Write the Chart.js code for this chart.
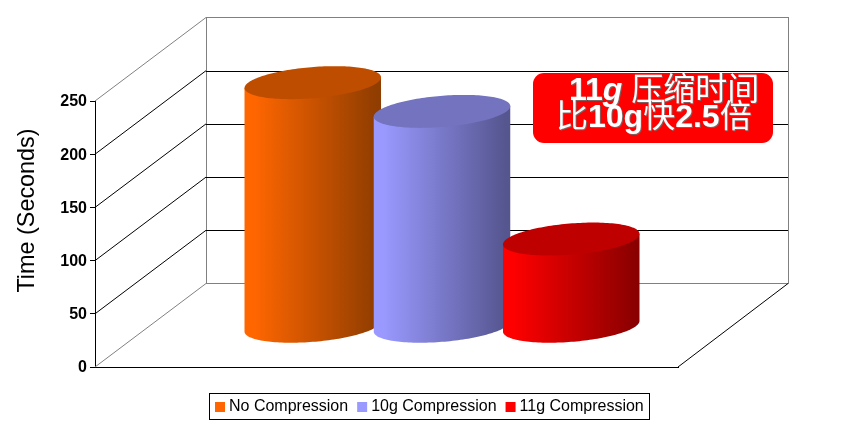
<!DOCTYPE html>
<html>
<head>
<meta charset="utf-8">
<style>html,body{margin:0;padding:0;background:#fff}canvas{display:block}</style>
<script src="https://cdn.jsdelivr.net/npm/chart.js@4"></script>
</head>
<body>
<canvas id="c" width="841" height="430" style="width:841px;height:430px"></canvas>
<script>
const categories = [''];
const seriesNames = ['No Compression', '10g Compression', '11g Compression'];
const noCompression = [228];
const tenGCompression = [201];
const elevenGCompression = [81];
const yTicks = [0, 50, 100, 150, 200, 250];
const yTitle = 'Time (Seconds)';
const baseColors = ['#FF6600', '#9999FF', '#FF0000'];
const topColors = ['#BF4D00', '#7373BF', '#BF0000'];
const endColors = ['#8F3D00', '#55558F', '#8A0000'];
const noteLine1 = [['11', 'b'], ['g', 'bi'], [' ', 'b'], ['压缩时间', 'c']];
const noteLine2 = [['比', 'c'], ['10g', 'b'], ['快', 'c'], ['2.5', 'b'], ['倍', 'c']];

const DEPTH = {dx: 111, dy: -83.5};
const LATIN = '"Liberation Sans"';
const CJK = '"Noto Sans CJK SC"';

function line(ctx, x1, y1, x2, y2, color) {
  ctx.strokeStyle = color; ctx.lineWidth = 1;
  ctx.beginPath(); ctx.moveTo(x1, y1); ctx.lineTo(x2, y2); ctx.stroke();
}

function segFont(kind) {
  if (kind === 'b') return 'bold 32px ' + LATIN;
  if (kind === 'bi') return 'italic bold 32px ' + LATIN;
  return '32px ' + CJK;
}
function drawSegs(ctx, segs, x, y) {
  ctx.textAlign = 'left'; ctx.textBaseline = 'alphabetic';
  for (const [t, k] of segs) {
    ctx.font = segFont(k);
    ctx.fillText(t, x, y);
    x += ctx.measureText(t).width;
  }
}

function drawCylinder(ctx, el, i) {
  const a = el.width / 2;
  const vx = 22, vy = -16.5;
  const R = Math.hypot(a, vx);
  const t0 = Math.atan2(vx, a);
  const cx = el.x + DEPTH.dx / 2;
  const cyTop = el.y + DEPTH.dy / 2;
  const cyBase = el.base + DEPTH.dy / 2 + 1.5;
  const px = t => cx + a * Math.cos(t) + vx * Math.sin(t);
  const py = (t, c) => c + vy * Math.sin(t);

  const g = ctx.createLinearGradient(cx - R, 0, cx + R, 0);
  g.addColorStop(0, baseColors[i]);
  g.addColorStop(0.07, baseColors[i]);
  g.addColorStop(0.97, endColors[i]);
  g.addColorStop(1, endColors[i]);
  ctx.fillStyle = g;
  ctx.beginPath();
  ctx.moveTo(px(t0), py(t0, cyTop));
  const steps = 80;
  for (let s = 0; s <= steps; s++) {
    const t = t0 - Math.PI * s / steps;
    ctx.lineTo(px(t), py(t, cyBase));
  }
  ctx.lineTo(px(t0 - Math.PI), py(t0 - Math.PI, cyTop));
  ctx.closePath();
  ctx.fill();

  ctx.fillStyle = topColors[i];
  ctx.beginPath();
  for (let s = 0; s <= 160; s++) {
    const t = 2 * Math.PI * s / 160;
    if (s === 0) ctx.moveTo(px(t), py(t, cyTop)); else ctx.lineTo(px(t), py(t, cyTop));
  }
  ctx.closePath();
  ctx.fill();
}

const scene = {
  id: 'scene',
  afterLayout(chart) {
    const lg = chart.legend;
    const w = lg.width, h = lg.height;
    lg.left = 206; lg.right = 206 + w;
    lg.top = 386; lg.bottom = 386 + h;
  },
  beforeDatasetsDraw(chart) {
    const ctx = chart.ctx, y = chart.scales.y, x = chart.scales.x;
    const L = x.left, Rt = x.right, dx = DEPTH.dx, dy = DEPTH.dy;
    const grey = '#808080';
    const y0 = y.getPixelForValue(0), yM = y.getPixelForValue(250);
    ctx.save();
    // back wall
    ctx.strokeStyle = grey; ctx.lineWidth = 1;
    ctx.strokeRect(Math.round(L + dx) + .5, Math.floor(yM + dy) + .5, Math.round(Rt - L) - 1, Math.round(y0 - yM));
    // gridlines
    yTicks.forEach(v => {
      const py = y.getPixelForValue(v);
      const c = (v === 0 || v === 250) ? grey : '#000';
      line(ctx, L, py, L + dx, py + dy, c);
      if (v !== 0 && v !== 250) line(ctx, L + dx, Math.round(py + dy) + .5, Rt + dx - 1, Math.round(py + dy) + .5, '#000');
    });
    // floor right edge
    line(ctx, Rt, y0, Rt + dx - 1, y0 + dy, '#000');
    ctx.restore();
  },
  beforeDatasetDraw() { return false; },
  afterDatasetsDraw(chart) {
    const ctx = chart.ctx;
    ctx.save();
    chart.data.datasets.forEach((d, i) => {
      chart.getDatasetMeta(i).data.forEach(el => drawCylinder(ctx, el, i));
    });
    // annotation
    ctx.fillStyle = '#FF0000';
    ctx.beginPath(); ctx.roundRect(533, 73, 240, 70, 11); ctx.fill();
    ctx.shadowColor = 'rgba(110,110,110,0.9)';
    ctx.shadowOffsetX = 1; ctx.shadowOffsetY = 1; ctx.shadowBlur = 0;
    ctx.fillStyle = '#fff';
    drawSegs(ctx, noteLine1, 569, 100);
    drawSegs(ctx, noteLine2, 556, 127);
    ctx.restore();

    // axis title
    ctx.save();
    ctx.fillStyle = '#000';
    ctx.font = '23.4px ' + LATIN;
    ctx.textAlign = 'center'; ctx.textBaseline = 'middle';
    ctx.translate(27.5, 210.5);
    ctx.rotate(-Math.PI / 2);
    ctx.fillText(yTitle, 0, 0);
    ctx.restore();

    // legend frame
    ctx.save();
    ctx.strokeStyle = '#000'; ctx.lineWidth = 1;
    ctx.strokeRect(209.5, 393.5, 440, 26);
    ctx.restore();
  }
};

new Chart(document.getElementById('c'), {
  type: 'bar',
  data: {
    labels: categories,
    datasets: [
      {label: seriesNames[0], data: noCompression, backgroundColor: baseColors[0], borderWidth: 0},
      {label: seriesNames[1], data: tenGCompression, backgroundColor: baseColors[1], borderWidth: 0},
      {label: seriesNames[2], data: elevenGCompression, backgroundColor: baseColors[2], borderWidth: 0}
    ]
  },
  plugins: [scene],
  options: {
    responsive: false,
    animation: false,
    devicePixelRatio: 1,
    layout: {padding: {left: 0, right: 163, top: 101, bottom: 24}},
    datasets: {bar: {categoryPercentage: 0.665, barPercentage: 1}},
    plugins: {
      title: {display: false},
      tooltip: {enabled: false},
      legend: {
        display: true,
        position: 'bottom',
        align: 'start',
        labels: {
          color: '#000',
          font: {family: LATIN, size: 16},
          usePointStyle: true,
          pointStyle: 'rect',
          boxWidth: 2,
          boxHeight: 10,
          padding: 13
        }
      }
    },
    scales: {
      x: {
        offset: true,
        grid: {display: false},
        border: {display: true, color: '#000', width: 1},
        ticks: {display: false},
        afterFit(s) { s.height = 0; }
      },
      y: {
        min: 0, max: 250,
        afterBuildTicks(s) { s.ticks = yTicks.map(v => ({value: v})); },
        afterFit(s) { s.width = 95; },
        border: {display: true, color: '#000', width: 1},
        grid: {drawOnChartArea: false, drawTicks: true, tickLength: 5, color: '#000'},
        ticks: {color: '#000', padding: 3, labelOffset: 1, font: {family: LATIN, size: 16, weight: 'bold'}}
      }
    }
  }
});
</script>
</body>
</html>
